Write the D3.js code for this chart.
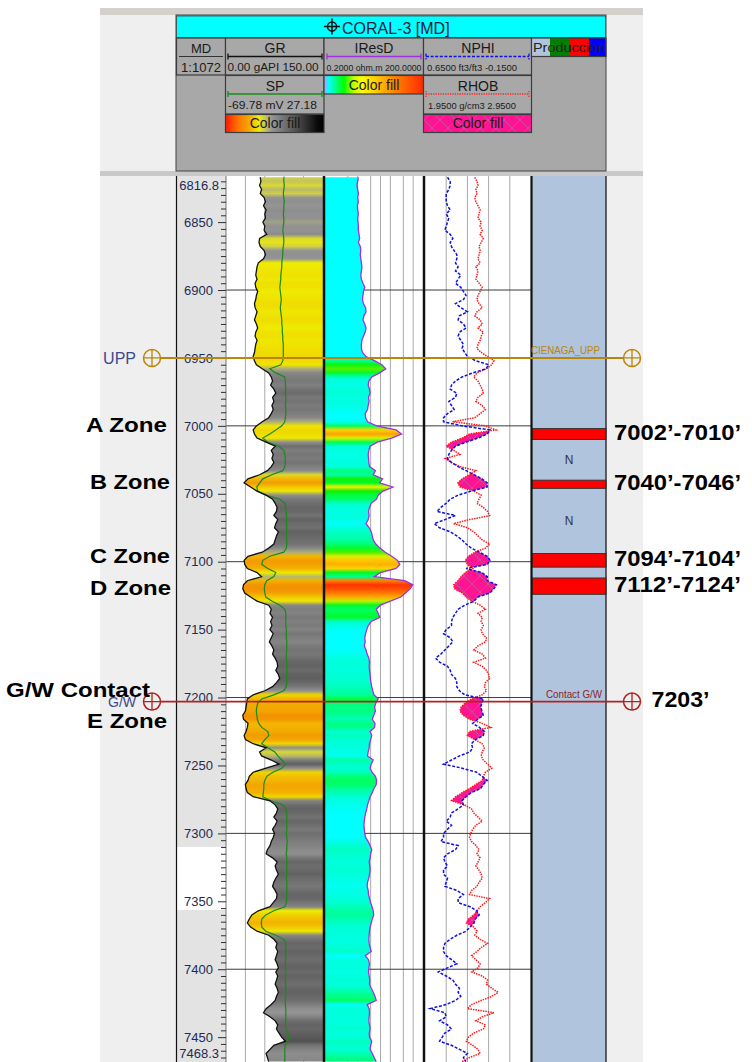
<!DOCTYPE html>
<html>
<head>
<meta charset="utf-8">
<script src="https://cdn.jsdelivr.net/npm/d3@7"></script>
<style>
  body { margin: 0; background: #fff; }
  svg { display: block; }
</style>
</head>
<body>
<div class="wellLog"></div>
<script>
// depth sampling of the curves (ft, MD)
const DEPTH_START = 6817
const DEPTH_STEP = 3
const depthRange = [6816.8, 7468.3]
const depthLabels = [6850, 6900, 6950, 7000, 7050, 7100, 7150, 7200, 7250, 7300, 7350, 7400, 7450]

// GR, gAPI (0 - 150)
const GR = [
  53, 54, 52, 55, 53, 59, 61, 58, 62, 60,
  61, 57, 60, 59, 63, 52, 51, 53, 59, 61,
  58, 50, 48, 47, 46, 48, 45, 46, 49, 47,
  46, 44, 45, 48, 46, 44, 47, 49, 46, 45,
  48, 46, 45, 44, 42, 44, 47, 56, 66, 70,
  72, 69, 74, 77, 72, 74, 71, 73, 70, 66,
  56, 47, 42, 44, 48, 62, 76, 70, 73, 71,
  74, 70, 64, 52, 34, 28, 38, 48, 62, 72,
  76, 79, 78, 74, 80, 77, 75, 81, 78, 76,
  74, 66, 56, 34, 28, 29, 33, 48, 55, 33,
  27, 26, 29, 38, 48, 66, 70, 68, 72, 69,
  71, 68, 73, 70, 67, 71, 74, 72, 76, 79,
  80, 77, 81, 83, 78, 72, 60, 42, 33, 32,
  31, 30, 26, 27, 34, 33, 31, 28, 30, 42,
  62, 52, 55, 70, 82, 62, 42, 36, 34, 30,
  31, 33, 42, 68, 76, 80, 78, 74, 79, 76,
  72, 75, 73, 70, 68, 64, 62, 72, 79, 76,
  78, 81, 77, 74, 72, 76, 79, 78, 73, 68,
  50, 40, 36, 33, 38, 48, 66, 74, 79, 77,
  80, 78, 76, 79, 81, 77, 80, 78, 76, 79,
  81, 78, 76, 70, 62, 58, 68, 76, 80, 78,
  82, 86, 92, 74, 68, 62, 64, 66
]

// SP, mV (-69.78 - 27.18)
const SP = [
  -12, -12, -11.5, -12, -12.5, -12, -11.5, -12, -12, -12.5,
  -12, -12, -12.5, -13, -12.5, -12, -12, -12.5, -13, -13,
  -13.5, -14, -14, -14.5, -15, -15, -15.5, -16, -15.5, -15,
  -14.5, -15, -15.5, -15, -14.5, -14, -14, -13.5, -13.5, -13,
  -13, -12.5, -12.5, -12.5, -12.5, -13, -15, -26, -20, -11,
  -10.5, -10.5, -10, -10.5, -10, -10, -10.5, -10, -10, -10.5,
  -11, -14, -20, -26, -33, -28, -17, -12, -11, -10.5,
  -10.5, -11, -13, -24, -33, -36, -39, -38, -30, -16,
  -11, -10, -9.5, -9.5, -9, -9.5, -9, -9, -9.5, -9,
  -9, -9.5, -12, -26, -33, -34, -28, -20, -22, -29,
  -31, -31.5, -31, -30, -24, -16, -11, -10, -10, -10,
  -10, -9.5, -9.5, -9.5, -9, -9, -9, -9.5, -9.5, -9,
  -9, -9, -9, -9, -9, -9.5, -12, -22, -34, -38,
  -39, -39.5, -39, -38.5, -37, -34, -28, -27, -31, -34,
  -28, -21, -18, -14, -10, -14, -23, -29, -31, -32,
  -32, -32.5, -33, -25, -13, -10, -9, -9, -9, -9,
  -9, -9.5, -9, -8.5, -9, -9, -9.5, -9, -9, -9,
  -9, -9, -9.5, -9, -9, -9, -9, -9, -9.5, -11,
  -22, -30, -34, -34.5, -34, -30, -20, -12, -10, -10,
  -10, -10, -10, -10.5, -10, -10, -10, -10.5, -10, -10,
  -10, -10, -10.5, -10.5, -10, -10, -10, -10, -10.5, -9.5,
  -8, -7, -9, -10.5, -11, -11, -11, -11
]

// IResD, ohm.m (0.2 - 200, log)
const IRESD = [
  2.1, 2.0, 1.9, 2.0, 2.1, 2.0, 2.1, 1.95, 2.0, 2.1,
  2.0, 2.05, 2.1, 2.1, 2.2, 2.3, 2.1, 2.4, 2.5, 2.4,
  2.5, 2.6, 2.7, 2.6, 2.5, 2.6, 2.9, 3.3, 3.0, 2.9,
  2.8, 3.0, 3.5, 3.6, 3.1, 2.9, 3.3, 3.6, 3.4, 3.0,
  2.7, 2.6, 2.6, 2.8, 3.6, 6.5, 11, 14.5, 9.5, 5.4,
  4.4, 4.2, 4.6, 4.8, 4.3, 4.5, 4.2, 4.0, 3.4, 3.5,
  4.0, 7.6, 30, 44, 22, 8, 4.8, 4.4, 4.2, 4.3,
  4.4, 4.6, 7, 6, 11.5, 9.5, 24, 12, 8.5, 7.6,
  5.2, 4.6, 4.3, 4.5, 4.2, 3.6, 4.5, 5.2, 5.6, 6.0,
  7.2, 9.6, 14, 22, 33, 39, 30, 10, 6.5, 55,
  98, 80, 58, 42, 20, 10, 7.4, 8.5, 9.5, 5.2,
  4.2, 3.8, 3.5, 3.3, 3.4, 3.2, 3.6, 3.9, 4.4, 4.6,
  4.5, 4.6, 4.8, 4.9, 5.1, 5.4, 5.8, 6.3, 8.5, 7.2,
  6.6, 7.0, 6.2, 5.6, 6.8, 6.6, 4.8, 5.4, 5.0, 4.6,
  4.5, 4.2, 4.0, 6.0, 5.2, 4.8, 5.5, 7.0, 7.6, 7.4,
  6.3, 5.6, 4.8, 4.4, 4.0, 3.8, 3.5, 3.3, 3.2, 3.1,
  3.2, 3.3, 3.5, 4.2, 4.8, 5.4, 5.0, 4.8, 4.5, 4.7,
  4.8, 4.6, 4.4, 4.0, 3.9, 4.2, 4.3, 4.6, 5.0, 5.5,
  6.0, 6.2, 5.6, 5.2, 4.8, 4.6, 4.5, 4.4, 4.5, 4.8,
  5.2, 3.4, 4.3, 4.6, 4.4, 4.3, 4.5, 4.7, 4.6, 5.2,
  6.0, 6.8, 7.4, 3.9, 4.5, 4.6, 4.5, 4.4, 4.6, 4.8,
  4.5, 4.6, 5.4, 5.0, 4.8, 5.6, 6.4, 7.4
]

// NPHI, ft3/ft3 (0.65 - -0.15)
const NPHI = [
  0.48, 0.46, 0.46, 0.47, 0.49, 0.49, 0.49, 0.48, 0.46, 0.49,
  0.47, 0.48, 0.49, 0.50, 0.46, 0.44, 0.46, 0.45, 0.43, 0.41,
  0.41, 0.42, 0.40, 0.42, 0.38, 0.40, 0.42, 0.38, 0.36, 0.34,
  0.36, 0.42, 0.38, 0.33, 0.39, 0.40, 0.36, 0.34, 0.39, 0.40,
  0.38, 0.36, 0.37, 0.35, 0.33, 0.27, 0.17, 0.19, 0.29, 0.37,
  0.42, 0.45, 0.46, 0.41, 0.42, 0.47, 0.45, 0.43, 0.48, 0.51,
  0.51, 0.37, 0.16, 0.18, 0.25, 0.34, 0.42, 0.45, 0.47, 0.48,
  0.45, 0.40, 0.34, 0.28, 0.22, 0.18, 0.18, 0.30, 0.40, 0.46,
  0.49, 0.53, 0.56, 0.42, 0.50, 0.58, 0.54, 0.46, 0.41, 0.37,
  0.34, 0.30, 0.24, 0.18, 0.16, 0.18, 0.34, 0.22, 0.18, 0.18,
  0.11, 0.13, 0.16, 0.25, 0.28, 0.35, 0.40, 0.42, 0.44, 0.45,
  0.45, 0.49, 0.51, 0.46, 0.44, 0.47, 0.50, 0.53, 0.57, 0.54,
  0.48, 0.46, 0.45, 0.42, 0.41, 0.41, 0.39, 0.35, 0.21, 0.22,
  0.23, 0.22, 0.21, 0.25, 0.29, 0.24, 0.20, 0.21, 0.27, 0.30,
  0.29, 0.31, 0.39, 0.45, 0.51, 0.37, 0.26, 0.22, 0.18, 0.21,
  0.23, 0.30, 0.34, 0.37, 0.36, 0.40, 0.45, 0.46, 0.49, 0.45,
  0.48, 0.51, 0.51, 0.53, 0.40, 0.42, 0.48, 0.51, 0.50, 0.48,
  0.51, 0.51, 0.48, 0.49, 0.50, 0.41, 0.36, 0.40, 0.40, 0.31,
  0.26, 0.24, 0.27, 0.28, 0.31, 0.34, 0.41, 0.46, 0.50, 0.51,
  0.51, 0.49, 0.45, 0.41, 0.48, 0.55, 0.49, 0.44, 0.42, 0.39,
  0.40, 0.38, 0.42, 0.49, 0.61, 0.50, 0.49, 0.54, 0.48, 0.45,
  0.50, 0.52, 0.54, 0.45, 0.39, 0.33, 0.36, 0.34
]

// RHOB, g/cm3 (1.95 - 2.95)
const RHOB = [
  2.42, 2.44, 2.45, 2.43, 2.44, 2.42, 2.43, 2.45, 2.47, 2.46,
  2.45, 2.48, 2.47, 2.49, 2.47, 2.50, 2.48, 2.46, 2.47, 2.46,
  2.45, 2.47, 2.43, 2.45, 2.44, 2.43, 2.46, 2.49, 2.47, 2.45,
  2.44, 2.46, 2.49, 2.44, 2.42, 2.47, 2.49, 2.45, 2.50, 2.48,
  2.47, 2.45, 2.44, 2.48, 2.54, 2.60, 2.58, 2.53, 2.44, 2.41,
  2.45, 2.47, 2.49, 2.50, 2.45, 2.43, 2.49, 2.52, 2.47, 2.42,
  2.21, 2.52, 2.62, 2.37, 2.30, 2.20, 2.15, 2.22, 2.28, 2.14,
  2.20, 2.28, 2.43, 2.37, 2.30, 2.26, 2.28, 2.41, 2.48, 2.46,
  2.44, 2.50, 2.54, 2.56, 2.37, 2.22, 2.35, 2.41, 2.45, 2.49,
  2.56, 2.52, 2.42, 2.36, 2.33, 2.35, 2.40, 2.33, 2.29, 2.26,
  2.22, 2.23, 2.30, 2.34, 2.39, 2.47, 2.52, 2.45, 2.49, 2.48,
  2.50, 2.48, 2.49, 2.53, 2.52, 2.45, 2.41, 2.49, 2.52, 2.41,
  2.49, 2.53, 2.55, 2.56, 2.52, 2.51, 2.53, 2.49, 2.39, 2.33,
  2.29, 2.28, 2.31, 2.37, 2.49, 2.57, 2.37, 2.35, 2.42, 2.49,
  2.51, 2.49, 2.48, 2.50, 2.54, 2.58, 2.52, 2.50, 2.49, 2.43,
  2.37, 2.30, 2.24, 2.20, 2.32, 2.39, 2.41, 2.45, 2.49, 2.43,
  2.40, 2.38, 2.37, 2.39, 2.43, 2.46, 2.44, 2.47, 2.45, 2.43,
  2.46, 2.48, 2.49, 2.46, 2.44, 2.39, 2.37, 2.56, 2.52, 2.47,
  2.44, 2.41, 2.36, 2.34, 2.41, 2.44, 2.42, 2.47, 2.54, 2.48,
  2.44, 2.39, 2.43, 2.47, 2.45, 2.39, 2.49, 2.54, 2.53, 2.58,
  2.64, 2.58, 2.48, 2.39, 2.35, 2.60, 2.49, 2.43, 2.52, 2.50,
  2.41, 2.36, 2.34, 2.40, 2.45, 2.47, 2.37, 2.30
]

// production intervals (perforations), ft
const perfTops = [7002, 7040, 7094, 7112]
const perfBases = [7010, 7046, 7104, 7124]
const perfLabels = ['7002’-7010’', '7040’-7046’', '7094’-7104’', '7112’-7124’']
const noProdDepths = [7025, 7070]

// formation tops / contacts
const topNames = ['CIENAGA_UPP', 'Contact G/W']
const topShortNames = ['UPP', 'G/W']
const topDepths = [6950, 7203]

// zone annotations on the left
const zoneNames = ['A Zone', 'B Zone', 'C Zone', 'D Zone', 'G/W Contact', 'E Zone']
const zoneDepths = [6999, 7041.5, 7096, 7119.4, 7194.2, 7217]

const depths = GR.map((_, i) => DEPTH_START + i * DEPTH_STEP)
const rows = depths.map((d, i) => ({ depth: d, gr: GR[i], sp: SP[i], res: IRESD[i], nphi: NPHI[i], rhob: RHOB[i] }))

const W = 752, H = 1062
const FONT = 'Arial, "Liberation Sans", Helvetica, sans-serif'
const svg = d3.select('.wellLog').append('svg')
  .attr('width', W).attr('height', H)
  .attr('viewBox', [0, 0, W, H])
  .style('font-family', FONT)
const defs = svg.append('defs')

// scales
const y = d3.scaleLinear().domain(depthRange).range([177, 1062])
const xGR = d3.scaleLinear().domain([0, 150]).range([226, 323])
const xSP = d3.scaleLinear().domain([-69.78, 27.18]).range([226, 323])
const xRes = d3.scaleLog().domain([0.2, 200]).range([325, 423])
const xNPHI = d3.scaleLinear().domain([0.65, -0.15]).range([425, 531])
const xRHOB = d3.scaleLinear().domain([1.95, 2.95]).range([425, 531])

const grColor = d3.scaleLinear()
  .domain([0, 18, 28, 40, 50, 54, 58, 68, 80, 100, 150])
  .range(['#ff1000', '#ff6000', '#f39c00', '#f0d000', '#eeee00', '#c4c460', '#959595', '#838383', '#636363', '#454545', '#000000'])
  .clamp(true)
const resColor = d3.scaleLog()
  .domain([3.5, 5, 6.5, 8.5, 12, 17, 24, 35, 55, 100])
  .range(['#00ffff', '#00ffd0', '#00ff90', '#00ff40', '#10f000', '#90f000', '#f0f000', '#ffc000', '#ff8000', '#ff3000'])
  .clamp(true)

// ---------- background panel ----------
svg.append('rect').attr('x', 100).attr('y', 8).attr('width', 543).attr('height', H - 8).attr('fill', '#efefef')
svg.append('rect').attr('x', 100).attr('y', 8).attr('width', 543).attr('height', 7).attr('fill', '#d4d1cc')
svg.append('rect').attr('x', 100).attr('y', 171).attr('width', 543).attr('height', 5).attr('fill', '#c9c9c9')

// ---------- header ----------
const hdr = svg.append('g')
hdr.append('rect').attr('x', 176).attr('y', 15).attr('width', 430).attr('height', 156).attr('fill', '#a8a8a8')
  .attr('stroke', '#444').attr('stroke-width', 1)
hdr.append('rect').attr('x', 176.5).attr('y', 16).attr('width', 429).attr('height', 21.5).attr('fill', '#00ffff')
  .attr('stroke', '#444').attr('stroke-width', 0.8)
// well title with crosshair symbol
hdr.append('circle').attr('cx', 332).attr('cy', 26.5).attr('r', 4.5).attr('fill', 'none').attr('stroke', '#111').attr('stroke-width', 1.5)
hdr.append('path').attr('d', 'M324,26.5H340M332,18.5V34.5').attr('stroke', '#111').attr('stroke-width', 1.5)
hdr.append('text').attr('x', 342).attr('y', 33.5).attr('font-size', 16).attr('fill', '#1e2040').text('CORAL-3 [MD]')

const cell = (x0, x1, y0, y1, fill) => hdr.append('rect')
  .attr('x', x0).attr('y', y0).attr('width', x1 - x0).attr('height', y1 - y0)
  .attr('fill', fill || '#a8a8a8').attr('stroke', '#3c3c3c').attr('stroke-width', 1.2)
const htext = (x, yy, txt, size, anchor, len) => {
  const t = hdr.append('text').attr('x', x).attr('y', yy).attr('font-size', size)
    .attr('fill', '#1a1a1a').attr('text-anchor', anchor || 'middle').text(txt)
  if (len) t.attr('textLength', len).attr('lengthAdjust', 'spacingAndGlyphs')
  return t
}
const scaleLine = (x0, x1, yy, color, dash) => {
  hdr.append('path').attr('d', `M${x0},${yy}H${x1}M${x0},${yy - 3}V${yy + 3}M${x1},${yy - 3}V${yy + 3}`)
    .attr('stroke', color).attr('stroke-width', 1.3).attr('fill', 'none')
    .attr('stroke-dasharray', dash || null)
}

// MD
cell(176.5, 225.5, 38, 75)
htext(201, 53, 'MD', 13)
hdr.append('path').attr('d', 'M179,56.5H223').attr('stroke', '#333').attr('stroke-width', 1)
htext(201, 71.5, '1:1072', 13)
// GR / SP
cell(225.5, 324, 38, 75)
htext(275, 53, 'GR', 14)
scaleLine(228, 322, 56.5, '#111')
htext(227.5, 71, '0.00 gAPI 150.00', 11.5, 'start', 91)
cell(225.5, 324, 75.5, 114)
htext(275, 90.5, 'SP', 14)
scaleLine(228, 322, 94, '#1a8a1a')
htext(228, 108.5, '-69.78 mV 27.18', 11.5, 'start', 89)
// GR color fill legend
const grLeg = defs.append('linearGradient').attr('id', 'grLegend')
grLeg.selectAll('stop').data([[0, '#ff1800'], [0.12, '#ff7000'], [0.24, '#f4a800'], [0.34, '#eeee00'], [0.4, '#c8c860'], [0.47, '#959595'], [0.72, '#505050'], [0.93, '#0a0a0a'], [1, '#000']])
  .join('stop').attr('offset', d => d[0]).attr('stop-color', d => d[1])
cell(225.5, 324, 114.5, 132.5, 'url(#grLegend)')
htext(275, 128, 'Color fill', 14)
// IResD
cell(324, 423.5, 38, 75)
htext(374, 53, 'IResD', 14)
scaleLine(327, 421, 56.5, '#a030e0')
htext(326.5, 70.5, '0.2000 ohm.m 200.0000', 8.5, 'start', 95)
const resLeg = defs.append('linearGradient').attr('id', 'resLegend')
resLeg.selectAll('stop').data([[0, '#b0a0ff'], [0.05, '#00ffff'], [0.12, '#00ff80'], [0.2, '#00ff00'], [0.3, '#c0ff00'], [0.38, '#ffff00'], [0.55, '#ffc000'], [0.72, '#ff8000'], [1, '#ff2a00']])
  .join('stop').attr('offset', d => d[0]).attr('stop-color', d => d[1])
cell(324, 423.5, 75.5, 94, 'url(#resLegend)')
htext(374, 89.5, 'Color fill', 14)
// NPHI / RHOB
cell(423.5, 531.5, 38, 75)
htext(478, 53, 'NPHI', 14)
scaleLine(426, 529, 56.5, '#1010e0', '3,1.6')
htext(427, 70.5, '0.6500 ft3/ft3 -0.1500', 9, 'start', 90)
cell(423.5, 531.5, 75.5, 114)
htext(478, 90.5, 'RHOB', 14)
scaleLine(426, 529, 94, '#ff2020', '1.2,1.2')
htext(428, 108.5, '1.9500 g/cm3 2.9500', 9.5, 'start', 88)
// crossover hatch
const hatch = defs.append('pattern').attr('id', 'pinkHatch').attr('patternUnits', 'userSpaceOnUse')
  .attr('width', 16).attr('height', 16)
hatch.append('rect').attr('width', 16).attr('height', 16).attr('fill', '#ff1493')
hatch.append('path').attr('d', 'M0,0L16,16M16,0L0,16').attr('stroke', '#b8609a').attr('stroke-width', 0.8)
cell(423.5, 531.5, 114.5, 132.5, 'url(#pinkHatch)')
htext(478, 128, 'Color fill', 14)
// production
const prodColors = ['#b0c4de', '#008000', '#ff0000', '#0000ff']
const prodEdges = [531.5, 550, 570, 589, 606]
prodColors.forEach((c, i) => cell(prodEdges[i], prodEdges[i + 1], 38, 56.5, c).attr('stroke', 'none'))
cell(531.5, 606, 38, 56.5, 'none')
htext(533, 51.5, 'Producción', 12.5, 'start', 72).attr('fill', '#222')

// ---------- track backgrounds ----------
const TOP = 176
const tracks = svg.append('g')
tracks.append('rect').attr('x', 176).attr('y', TOP).attr('width', 50).attr('height', H - TOP).attr('fill', '#e3e3e3')
tracks.append('rect').attr('x', 176).attr('y', y(7310)).attr('width', 50).attr('height', y(7356.4) - y(7310)).attr('fill', '#fff')
tracks.append('rect').attr('x', 226).attr('y', TOP).attr('width', 305).attr('height', H - TOP).attr('fill', '#fff')
tracks.append('rect').attr('x', 531).attr('y', TOP).attr('width', 75).attr('height', H - TOP).attr('fill', '#b0c4de')

defs.append('clipPath').attr('id', 'trackClip')
  .append('rect').attr('x', 0).attr('y', TOP).attr('width', W).attr('height', H - TOP)
const plot = svg.append('g').attr('clip-path', 'url(#trackClip)')

// grid
const grid = plot.append('g').attr('stroke', '#a8a8a8').attr('stroke-width', 1)
const vline = x => grid.append('line').attr('x1', x).attr('x2', x).attr('y1', TOP).attr('y2', H)
;[30, 60, 90, 120].forEach(v => vline(xGR(v)))
;[1, 2, 5, 10, 20, 50, 100].forEach(v => vline(xRes(v)))
d3.range(1, 5).map(k => 0.65 - k * 0.16).forEach(v => vline(xNPHI(v)))
plot.append('g').selectAll('line').data(d3.range(6900, 7401, 100)).join('line')
  .attr('x1', 226).attr('x2', 531).attr('y1', d => y(d)).attr('y2', d => y(d))
  .attr('stroke', '#3a3a3a').attr('stroke-width', 1)

// vertical colour gradients that follow the curve values
function bandGradient(id, key, color) {
  const [y0, y1] = y.range()
  const g = defs.append('linearGradient').attr('id', id).attr('gradientUnits', 'userSpaceOnUse')
    .attr('x1', 0).attr('x2', 0).attr('y1', y0).attr('y2', y1)
  g.selectAll('stop').data(rows).join('stop')
    .attr('offset', d => (y(d.depth) - y0) / (y1 - y0))
    .attr('stop-color', d => color(d[key]))
}
bandGradient('grFill', 'gr', grColor)
bandGradient('resFill', 'res', resColor)

// GR track
plot.append('path').datum(rows)
  .attr('d', d3.area().y(d => y(d.depth)).x0(d => xGR(d.gr)).x1(xGR.range()[1]))
  .attr('fill', 'url(#grFill)')
plot.append('path').datum(rows)
  .attr('d', d3.line().x(d => xSP(d.sp)).y(d => y(d.depth)))
  .attr('fill', 'none').attr('stroke', '#1a8a1a').attr('stroke-width', 1.2)
plot.append('path').datum(rows)
  .attr('d', d3.line().x(d => xGR(d.gr)).y(d => y(d.depth)))
  .attr('fill', 'none').attr('stroke', '#111').attr('stroke-width', 1.3)

// resistivity track
plot.append('path').datum(rows)
  .attr('d', d3.area().y(d => y(d.depth)).x0(xRes.range()[0]).x1(d => xRes(d.res)))
  .attr('fill', 'url(#resFill)')
plot.append('path').datum(rows)
  .attr('d', d3.line().x(d => xRes(d.res)).y(d => y(d.depth)))
  .attr('fill', 'none').attr('stroke', '#a030e0').attr('stroke-width', 1.3)

// neutron-density crossover (RHOB left of NPHI)
defs.append('clipPath').attr('id', 'nphiLeft').append('path').datum(rows)
  .attr('d', d3.area().y(d => y(d.depth)).x0(xNPHI.range()[0]).x1(d => xNPHI(d.nphi)))
plot.append('g').attr('clip-path', 'url(#nphiLeft)')
  .append('path').datum(rows)
  .attr('d', d3.area().y(d => y(d.depth)).x0(d => xRHOB(d.rhob)).x1(xRHOB.range()[1]))
  .attr('fill', 'url(#pinkHatch)')
plot.append('path').datum(rows)
  .attr('d', d3.line().x(d => xRHOB(d.rhob)).y(d => y(d.depth)))
  .attr('fill', 'none').attr('stroke', '#ff1a1a').attr('stroke-width', 1.5).attr('stroke-dasharray', '1.5,1')
plot.append('path').datum(rows)
  .attr('d', d3.line().x(d => xNPHI(d.nphi)).y(d => y(d.depth)))
  .attr('fill', 'none').attr('stroke', '#1010e0').attr('stroke-width', 1.5).attr('stroke-dasharray', '3,1.6')

// production track
const prod = plot.append('g')
prod.selectAll('rect').data(perfTops).join('rect')
  .attr('x', 532).attr('width', 74)
  .attr('y', d => y(d)).attr('height', (d, i) => y(perfBases[i]) - y(d))
  .attr('fill', '#ff0000').attr('stroke', '#333').attr('stroke-width', 1)
prod.selectAll('text').data(noProdDepths).join('text')
  .attr('x', 569).attr('y', d => y(d)).attr('dy', '0.35em')
  .attr('text-anchor', 'middle').attr('font-size', 12).attr('fill', '#333').text('N')

// track borders
const borders = svg.append('g').attr('stroke', '#111')
const vb = (x, w, c) => borders.append('line').attr('x1', x).attr('x2', x).attr('y1', TOP).attr('y2', H)
  .attr('stroke-width', w).attr('stroke', c || '#111')
vb(176.5, 1.2)
vb(226, 1, '#777')
vb(324, 2.5)
vb(424, 2.5)
vb(531.5, 2.2)
vb(606, 1.5, '#333')

// depth ticks + labels
const minorAxis = d3.axisLeft(y).tickValues(d3.range(6820, 7468, 5).filter(d => d % 50)).tickSize(5).tickFormat('')
svg.append('g').attr('transform', 'translate(226,0)').call(minorAxis)
  .call(g => g.select('.domain').remove())
  .call(g => g.selectAll('line').attr('stroke', '#303030'))
const majorAxis = d3.axisLeft(y).tickValues(depthLabels).tickSize(8).tickPadding(5).tickFormat(d3.format('d'))
svg.append('g').attr('transform', 'translate(226,0)').call(majorAxis)
  .call(g => g.select('.domain').remove())
  .call(g => g.selectAll('line').attr('stroke', '#303030'))
  .call(g => g.selectAll('text').attr('font-size', 13).attr('font-family', FONT).attr('fill', '#1d2b55'))
svg.append('g').selectAll('text').data(depthRange).join('text')
  .attr('x', 219).attr('y', (d, i) => y(d) + (i ? -9 : 8)).attr('dy', '0.35em')
  .attr('text-anchor', 'end').attr('font-size', 13).attr('fill', '#1d2b55')
  .text(d => d.toFixed(1))

// formation tops / contact lines
const topColors = ['#b8860b', '#b22222']
defs.append('clipPath').attr('id', 'panelClip')
  .append('rect').attr('x', 100).attr('y', 0).attr('width', 543).attr('height', H)
const tops = svg.append('g').attr('clip-path', 'url(#panelClip)')
topDepths.forEach((d, i) => {
  const yy = y(d), c = topColors[i]
  tops.append('line').attr('x1', 160).attr('x2', 623).attr('y1', yy).attr('y2', yy)
    .attr('stroke', c).attr('stroke-width', i ? 1.6 : 2)
  ;[152, 632].forEach(cx => {
    tops.append('circle').attr('cx', cx).attr('cy', yy).attr('r', 8.5)
      .attr('fill', 'none').attr('stroke', c).attr('stroke-width', 1.5)
    tops.append('path').attr('d', `M${cx - 8.5},${yy}H${cx + 8.5}M${cx},${yy - 8.5}V${yy + 8.5}`)
      .attr('stroke', c).attr('stroke-width', 1.3)
  })
  tops.append('text').attr('x', 136).attr('y', yy).attr('dy', '0.36em')
    .attr('text-anchor', 'end').attr('font-size', i ? 14 : 16).attr('fill', '#3b4a8c').text(topShortNames[i])
  tops.append('text').attr('x', i ? 546 : 531).attr('y', yy - 3.5)
    .attr('font-size', 10).attr('fill', i ? '#8b2525' : '#b8860b')
    .attr('textLength', i ? 56 : 69).attr('lengthAdjust', 'spacingAndGlyphs')
    .text(topNames[i])
})

// zone annotations
const zoneRight = [167, 170, 170, 171, 150, 167]
const zoneWidth = [81, 80, 80, 81, 144, 80]
svg.append('g').selectAll('text').data(zoneNames).join('text')
  .attr('x', (d, i) => zoneRight[i]).attr('y', (d, i) => y(zoneDepths[i])).attr('dy', '0.36em')
  .attr('text-anchor', 'end').attr('font-size', 20).attr('font-weight', 'bold').attr('fill', '#000')
  .attr('textLength', (d, i) => zoneWidth[i]).attr('lengthAdjust', 'spacingAndGlyphs')
  .text(d => d)

// interval annotations on the right
svg.append('g').selectAll('text').data(perfLabels).join('text')
  .attr('x', 614).attr('y', (d, i) => y((perfTops[i] + perfBases[i]) / 2) - 2).attr('dy', '0.36em')
  .attr('font-size', 22).attr('font-weight', 'bold').attr('fill', '#000')
  .attr('textLength', 127).attr('lengthAdjust', 'spacingAndGlyphs')
  .text(d => d)
svg.append('text').attr('x', 651.5).attr('y', y(topDepths[1]) - 3).attr('dy', '0.36em')
  .attr('font-size', 22).attr('font-weight', 'bold').attr('fill', '#000')
  .attr('textLength', 58).attr('lengthAdjust', 'spacingAndGlyphs')
  .text('7203’')
</script>
</body>
</html>
